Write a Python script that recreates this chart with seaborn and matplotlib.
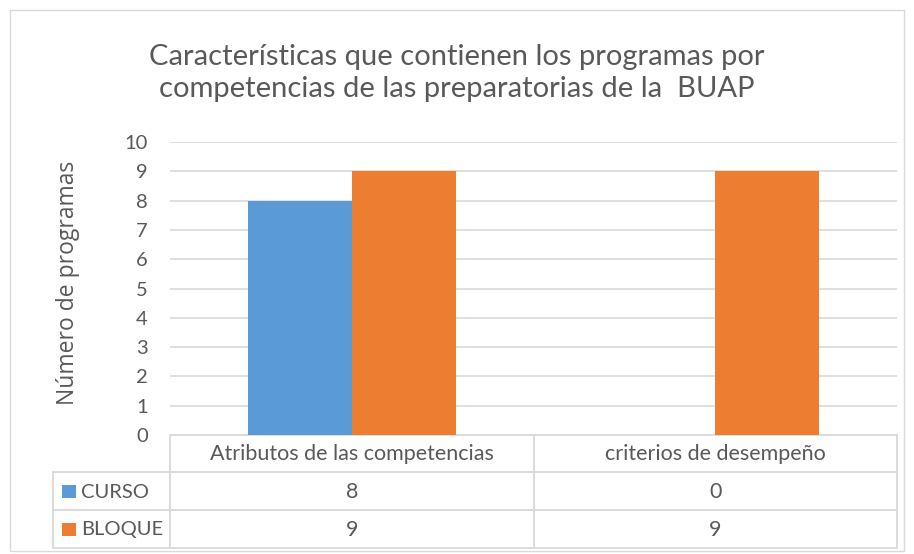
import matplotlib
matplotlib.use("Agg")
import matplotlib.pyplot as plt
import seaborn as sns
import pandas as pd
from matplotlib.patches import Rectangle

categories = ["Atributos de las competencias", "criterios de desempeño"]
series_names = ["CURSO", "BLOQUE"]
curso = [8, 0]
bloque = [9, 9]
yticks = [0, 1, 2, 3, 4, 5, 6, 7, 8, 9, 10]
title = "Características que contienen los programas por\ncompetencias de las preparatorias de la  BUAP"
ylabel = "Número de programas"

BLUE = "#5B9BD5"
ORANGE = "#ED7D31"
TXT = "#595959"
GRID = "#D9D9D9"

df = pd.DataFrame({
    "cat": categories * 2,
    "serie": [series_names[0]] * 2 + [series_names[1]] * 2,
    "val": curso + bloque,
})

sns.set_theme(style="white")
FONT = ["Lato", "DejaVu Sans"]
plt.rcParams["font.family"] = FONT

W, H = 914, 554
fig = plt.figure(figsize=(W / 100, H / 100), dpi=100)

# overlay for pixel-coordinate decorations
ov = fig.add_axes([0, 0, 1, 1], zorder=0)
ov.set_xlim(0, W)
ov.set_ylim(H, 0)
ov.axis("off")

L, R, T, B = 170, 897, 142, 435
ax = fig.add_axes([L / W, (H - B) / H, (R - L) / W, (B - T) / H], zorder=2)
ax.patch.set_alpha(0)
sns.barplot(data=df, x="cat", y="val", hue="serie", palette=[BLUE, ORANGE],
            width=0.572, dodge=True, ax=ax, legend=False, linewidth=0,
            saturation=1, order=categories, hue_order=series_names)
ax.set_xlim(-0.5, 1.5)
ax.set_ylim(0, 10)
ax.set_yticks(yticks)
ax.set_yticklabels([str(v) for v in yticks], color=TXT, fontsize=14.5)
ax.tick_params(axis="y", length=0, pad=16)
ax.set_xticks([])
ax.set_xlabel("")
ax.set_ylabel("")
for s in ax.spines.values():
    s.set_visible(False)
ax.yaxis.grid(True, color=GRID, linewidth=1.2)
ax.set_axisbelow(True)

# y label and title
fig.text(68 / W, 1 - 283 / H, ylabel, rotation=90, ha="center", va="center",
         color=TXT, fontsize=16.5, family=["Open Sans", "DejaVu Sans"])
fig.text(457 / W, 1 - 73 / H, title, ha="center", va="center", color=TXT,
         fontsize=21, linespacing=1.3)

# outer frame
ov.add_patch(Rectangle((10, 10), W - 20, H - 13, fill=False, edgecolor="#D9D9D9", lw=1))

# data table
lc = "#D9D9D9"
col_x = [170, 533.5, 897]
row_y = [435, 472, 510, 548]
key_left = 53
lw = 1.3
ov.plot([col_x[0], col_x[0]], [row_y[0], row_y[-1]], color=lc, lw=lw)
for x in col_x[1:]:
    ov.plot([x, x], [row_y[0], row_y[-1]], color=lc, lw=lw)
ov.plot([col_x[0], col_x[-1]], [row_y[0], row_y[0]], color=lc, lw=lw)
for y in row_y[1:]:
    ov.plot([key_left, col_x[-1]], [y, y], color=lc, lw=lw)
ov.plot([key_left, key_left], [row_y[1], row_y[-1]], color=lc, lw=lw)

FS = 15.5
for i, c in enumerate(categories):
    xm = (col_x[i] + col_x[i + 1]) / 2
    ov.text(xm, (row_y[0] + row_y[1]) / 2 + 1, c, ha="center", va="center",
            color=TXT, fontsize=FS)
for r, (name, vals, colr) in enumerate(zip(series_names, [curso, bloque], [BLUE, ORANGE])):
    yc = (row_y[r + 1] + row_y[r + 2]) / 2
    ov.add_patch(Rectangle((62, yc - 6.5), 13.5, 13.5, color=colr, lw=0))
    ov.text(81, yc + 1, name, ha="left", va="center", color=TXT, fontsize=14.5)
    for i, v in enumerate(vals):
        xm = (col_x[i] + col_x[i + 1]) / 2
        ov.text(xm, yc + 1, str(v), ha="center", va="center", color=TXT, fontsize=FS)

fig.savefig("out.png", dpi=100, facecolor="white")
